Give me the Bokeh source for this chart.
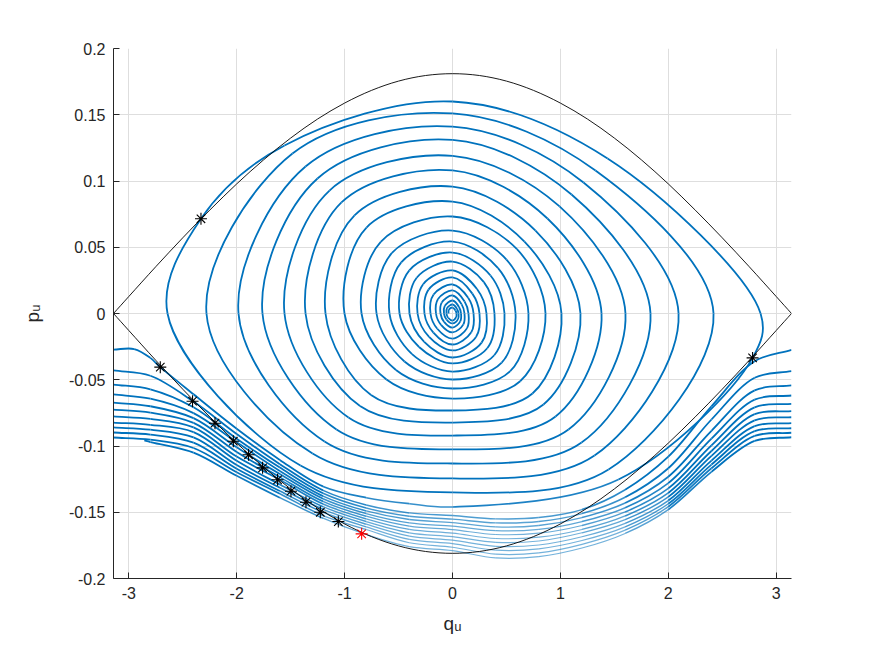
import math
from bokeh.plotting import figure
from bokeh.models import Range1d, FixedTicker, ColumnDataSource
from bokeh.embed import file_html
from bokeh.resources import INLINE

# ---------------- data ----------------
# separatrix
sep_q = [-3.1416, -3.0, -2.75, -2.5, -2.25, -2.0, -1.75, -1.5, -1.25, -1.0, -0.75, -0.5, -0.25, 0.0,
         0.25, 0.5, 0.75, 1.0, 1.25, 1.5, 1.75, 2.0, 2.25, 2.5, 2.75, 3.0, 3.1416]
sep_p_upper = [0.0, 0.0128, 0.0353, 0.0571, 0.0780, 0.0978, 0.1160, 0.1324, 0.1468, 0.1588, 0.1684, 0.1754, 0.1796, 0.1810,
               0.1796, 0.1754, 0.1684, 0.1588, 0.1468, 0.1324, 0.1160, 0.0978, 0.0780, 0.0571, 0.0353, 0.0128, 0.0]
sep_p_lower = [-v for v in sep_p_upper]

# star markers (black) and the red one
star_q = [-2.708, -2.409, -2.201, -2.031, -1.890, -1.760, -1.621, -1.497, -1.358, -1.225, -1.058, -2.331, 2.781]
star_p = [-0.0405, -0.0662, -0.0828, -0.0964, -0.1066, -0.1165, -0.1255, -0.1341, -0.1424, -0.1500, -0.1570, 0.0715, -0.0335]
red_q = [-0.842]
red_p = [-0.1663]

# circulating turns below the separatrix (p at the q grid)
lower_q = [-3.1416, -2.8, -2.4, -2.0, -1.6, -1.2, -0.8, -0.4, 0.0, 0.4, 0.8, 1.2, 1.6, 2.0, 2.4, 2.8, 3.1416]
turn01_p = [-0.0430, -0.0470, -0.0665, -0.0910, -0.1137, -0.1335, -0.1445, -0.1505, -0.1525, -0.1550, -0.1540, -0.1480, -0.1330, -0.1080, -0.0700, -0.0360, -0.0274]
turn02_p = [-0.0536, -0.0572, -0.0708, -0.0945, -0.1163, -0.1357, -0.1468, -0.1530, -0.1552, -0.1580, -0.1570, -0.1510, -0.1387, -0.1168, -0.0800, -0.0485, -0.0435]
turn03_p = [-0.0611, -0.0643, -0.0752, -0.0972, -0.1188, -0.1378, -0.1490, -0.1555, -0.1578, -0.1610, -0.1600, -0.1540, -0.1430, -0.1232, -0.0885, -0.0580, -0.0543]
turn04_p = [-0.0672, -0.0700, -0.0790, -0.1010, -0.1212, -0.1398, -0.1510, -0.1580, -0.1605, -0.1639, -0.1629, -0.1570, -0.1466, -0.1280, -0.0945, -0.0650, -0.0619]
turn05_p = [-0.0725, -0.0748, -0.0825, -0.1045, -0.1235, -0.1418, -0.1530, -0.1605, -0.1631, -0.1668, -0.1658, -0.1600, -0.1498, -0.1320, -0.0995, -0.0708, -0.0682]
turn06_p = [-0.0777, -0.0796, -0.0860, -0.1080, -0.1255, -0.1438, -0.1550, -0.1630, -0.1658, -0.1698, -0.1688, -0.1630, -0.1528, -0.1354, -0.1038, -0.0760, -0.0737]
turn07_p = [-0.0823, -0.0840, -0.0895, -0.1112, -0.1290, -0.1458, -0.1570, -0.1655, -0.1684, -0.1727, -0.1717, -0.1655, -0.1556, -0.1384, -0.1075, -0.0806, -0.0783]
turn08_p = [-0.0860, -0.0877, -0.0935, -0.1143, -0.1315, -0.1478, -0.1590, -0.1680, -0.1711, -0.1757, -0.1747, -0.1685, -0.1584, -0.1412, -0.1110, -0.0850, -0.0828]
turn09_p = [-0.0898, -0.0914, -0.0975, -0.1172, -0.1340, -0.1500, -0.1610, -0.1705, -0.1737, -0.1786, -0.1776, -0.1713, -0.1610, -0.1436, -0.1140, -0.0888, -0.0866]
turn10_p = [-0.0936, -0.0952, -0.1015, -0.1198, -0.1360, -0.1525, -0.1630, -0.1730, -0.1764, -0.1816, -0.1806, -0.1742, -0.1635, -0.1458, -0.1168, -0.0924, -0.0900]
first_q = [-2.856, -2.8, -2.4, -2.0, -1.6, -1.2, -0.8, -0.4, 0.0, 0.4, 0.8, 1.2, 1.6, 2.0, 2.4, 2.8, 3.1416]
first_p = [-0.0958, -0.0970, -0.1050, -0.1225, -0.1390, -0.1545, -0.1668, -0.1760, -0.1790, -0.1845, -0.1835, -0.1770, -0.1660, -0.1480, -0.1195, -0.0962, -0.0934]

# last circulating turn that gets captured (runs into the outermost loop)
entry_q = [-3.1416, -2.95, -2.8, -2.708, -2.4, -2.0, -1.6, -1.2, -0.8]
entry_p = [-0.0272, -0.0268, -0.0335, -0.0405, -0.0610, -0.0870, -0.1105, -0.1305, -0.1390]

# captured loops, outermost first (points around the centre)
centre_q = 0.0
centre_p = 0.0
ring_sw_q = [-0.400, -1.409, -1.297, -1.186, -1.075, -0.964, -0.857, -0.755, -0.612, -0.524, -0.445, -0.375, -0.310, -0.262, -0.217, -0.177, -0.141, -0.106, -0.078, -0.056, -0.040]
ring_sw_p = [-0.1435, -0.1147, -0.1057, -0.0966, -0.0875, -0.0785, -0.0698, -0.0615, -0.0498, -0.0426, -0.0362, -0.0306, -0.0253, -0.0214, -0.0177, -0.0144, -0.0115, -0.0086, -0.0063, -0.0045, -0.0032]
ring_s_p = [-0.1460, -0.1350, -0.1245, -0.1132, -0.1026, -0.0921, -0.0823, -0.0732, -0.0642, -0.0566, -0.0498, -0.0438, -0.0377, -0.0332, -0.0279, -0.0234, -0.0189, -0.0143, -0.0106, -0.0075, -0.0053]
ring_se_q = [1.538, 1.446, 1.316, 1.196, 1.075, 0.955, 0.843, 0.741, 0.627, 0.535, 0.456, 0.387, 0.322, 0.270, 0.218, 0.174, 0.135, 0.101, 0.072, 0.051, 0.034]
ring_se_p = [-0.1253, -0.1177, -0.1072, -0.0974, -0.0875, -0.0777, -0.0687, -0.0604, -0.0511, -0.0435, -0.0371, -0.0315, -0.0262, -0.0220, -0.0177, -0.0142, -0.0110, -0.0082, -0.0059, -0.0042, -0.0028]
ring_e_q = [2.855, 2.419, 2.095, 1.835, 1.603, 1.381, 1.186, 1.010, 0.862, 0.704, 0.584, 0.482, 0.389, 0.315, 0.250, 0.195, 0.148, 0.111, 0.079, 0.056, 0.037]
ring_ne_q = [1.437, 1.325, 1.214, 1.103, 0.992, 0.880, 0.769, 0.667, 0.597, 0.500, 0.422, 0.352, 0.291, 0.227, 0.184, 0.145, 0.112, 0.085, 0.060, 0.042, 0.028]
ring_ne_p = [0.1170, 0.1079, 0.0989, 0.0898, 0.0808, 0.0717, 0.0626, 0.0543, 0.0486, 0.0407, 0.0343, 0.0287, 0.0237, 0.0185, 0.0150, 0.0118, 0.0091, 0.0069, 0.0049, 0.0034, 0.0023]
ring_n_p = [0.1600, 0.1510, 0.1410, 0.1310, 0.1190, 0.1080, 0.0958, 0.0845, 0.0732, 0.0626, 0.0543, 0.0460, 0.0392, 0.0325, 0.0272, 0.0219, 0.0174, 0.0136, 0.0098, 0.0068, 0.0045]
ring_nw_q = [-1.557, -1.483, -1.362, -1.251, -1.140, -1.029, -0.908, -0.797, -0.665, -0.561, -0.475, -0.400, -0.332, -0.272, -0.222, -0.175, -0.134, -0.100, -0.071, -0.050, -0.034]
ring_nw_p = [0.1268, 0.1208, 0.1109, 0.1019, 0.0928, 0.0838, 0.0740, 0.0649, 0.0541, 0.0457, 0.0386, 0.0326, 0.0270, 0.0221, 0.0180, 0.0143, 0.0109, 0.0082, 0.0058, 0.0041, 0.0028]
ring_w_q = [-2.641, -2.280, -1.983, -1.761, -1.557, -1.362, -1.177, -1.001, -0.843, -0.704, -0.584, -0.491, -0.399, -0.324, -0.260, -0.204, -0.153, -0.111, -0.079, -0.056, -0.037]

x_ticks = [-3, -2, -1, 0, 1, 2, 3]
y_ticks = [-0.2, -0.15, -0.1, -0.05, 0.0, 0.05, 0.1, 0.15, 0.2]
x_tick_labels = ["-3", "-2", "-1", "0", "1", "2", "3"]
y_tick_labels = ["-0.2", "-0.15", "-0.1", "-0.05", "0", "0.05", "0.1", "0.15", "0.2"]
x_label = "q\u1d64"
y_label = "p\u1d64"

BLUE = "#0072BD"
INK = "#262626"

# ---------------- smooth drawing through the read points ----------------
SY = 1325.0 / 107.9   # pixel aspect used only for the centripetal smoothing


def empty():
    return {k: [] for k in ("x0", "y0", "x1", "y1", "cx0", "cy0", "cx1", "cy1", "lw", "la")}


def add_segments(store, qs, ps, fade=True):
    P = [(q, v * SY) for q, v in zip(qs, ps)]
    n = len(P)

    def d(a, b):
        return math.hypot(a[0] - b[0], a[1] - b[1]) ** 0.5

    for i in range(n - 1):
        p0 = P[i - 1] if i > 0 else P[i]
        p1, p2 = P[i], P[i + 1]
        p3 = P[i + 2] if i + 2 < n else P[i + 1]
        d1, d2, d3 = d(p0, p1), d(p1, p2), d(p2, p3)
        if d1 < 1e-9:
            c1 = tuple(p1[k] + (p2[k] - p1[k]) / 3 for k in range(2))
        else:
            a, b = d1 * d1, d2 * d2
            den = 3 * d1 * (d1 + d2)
            c1 = tuple((a * p2[k] - b * p0[k] + (2 * a + 3 * d1 * d2 + b) * p1[k]) / den for k in range(2))
        if d3 < 1e-9:
            c2 = tuple(p2[k] - (p2[k] - p1[k]) / 3 for k in range(2))
        else:
            a, b = d3 * d3, d2 * d2
            den = 3 * d3 * (d3 + d2)
            c2 = tuple((a * p1[k] - b * p3[k] + (2 * a + 3 * d3 * d2 + b) * p2[k]) / den for k in range(2))
        mp = 0.5 * (p1[1] + p2[1]) / SY
        # dotted (fast) part of the trajectory near the bottom is lighter
        t = min(1.0, max(0.0, (-0.125 - mp) / 0.042)) if fade else 0.0
        store["x0"].append(p1[0]); store["y0"].append(p1[1] / SY)
        store["x1"].append(p2[0]); store["y1"].append(p2[1] / SY)
        store["cx0"].append(c1[0]); store["cy0"].append(c1[1] / SY)
        store["cx1"].append(c2[0]); store["cy1"].append(c2[1] / SY)
        store["lw"].append(1.8 - 0.6 * t)
        store["la"].append(1.0 - 0.45 * t)


traj = empty()

# spiral of captured loops
sp_q = list(entry_q)
sp_p = list(entry_p)
for i in range(len(ring_n_p)):
    pts = [(ring_sw_q[i], ring_sw_p[i]), (centre_q, ring_s_p[i]), (ring_se_q[i], ring_se_p[i])]
    if i == 0:
        pts.append((star_q[12], star_p[12]))
    pts += [(ring_e_q[i], centre_p), (ring_ne_q[i], ring_ne_p[i]), (centre_q, ring_n_p[i]),
            (ring_nw_q[i], ring_nw_p[i])]
    if i == 0:
        pts.append((star_q[11], star_p[11]))
    pts.append((ring_w_q[i], centre_p))
    for a, b in pts:
        sp_q.append(a)
        sp_p.append(b)
add_segments(traj, sp_q, sp_p)

for tp in [turn01_p, turn02_p, turn03_p, turn04_p, turn05_p, turn06_p, turn07_p, turn08_p, turn09_p, turn10_p]:
    add_segments(traj, lower_q, tp)
add_segments(traj, first_q, first_p)

sep = empty()
add_segments(sep, sep_q, sep_p_upper, fade=False)
add_segments(sep, sep_q, sep_p_lower, fade=False)

# ---------------- figure ----------------
p = figure(width=860, height=650, x_range=Range1d(-math.pi, math.pi), y_range=Range1d(-0.2, 0.2),
           output_backend="svg", toolbar_location=None, title=None,
           min_border_left=113, min_border_right=69, min_border_top=48, min_border_bottom=72)
p.background_fill_color = "white"
p.border_fill_color = "white"
p.outline_line_color = None

p.xaxis.ticker = FixedTicker(ticks=x_ticks)
p.yaxis.ticker = FixedTicker(ticks=y_ticks)
p.xaxis.major_label_overrides = {t: s for t, s in zip(x_ticks, x_tick_labels)}
p.yaxis.major_label_overrides = {t: s for t, s in zip(y_ticks, y_tick_labels)}
for ax in (p.xaxis, p.yaxis):
    ax.major_tick_in = 6
    ax.major_tick_out = 0
    ax.minor_tick_line_color = None
    ax.axis_line_color = INK
    ax.major_tick_line_color = INK
    ax.major_label_text_color = INK
    ax.major_label_text_font = "Liberation Sans"
    ax.major_label_text_font_size = "16px"
    ax.axis_label_text_font = "Liberation Sans"
    ax.axis_label_text_font_style = "normal"
    ax.axis_label_text_font_size = "19px"
    ax.axis_label_text_color = INK
p.xaxis.axis_label = x_label
p.yaxis.axis_label = y_label
p.xaxis.major_label_standoff = 8
p.yaxis.major_label_standoff = 8
p.xaxis.axis_label_standoff = 11
p.yaxis.axis_label_standoff = 23
p.grid.grid_line_color = "#dedede"
p.grid.grid_line_width = 1

p.bezier(x0="x0", y0="y0", x1="x1", y1="y1", cx0="cx0", cy0="cy0", cx1="cx1", cy1="cy1",
         source=ColumnDataSource(traj), line_color=BLUE, line_width="lw", line_alpha="la")
p.bezier(x0="x0", y0="y0", x1="x1", y1="y1", cx0="cx0", cy0="cy0", cx1="cx1", cy1="cy1",
         source=ColumnDataSource(sep), line_color="black", line_width=0.9)

p.scatter(star_q, star_p, marker="asterisk", size=12, line_color="black", line_width=1.1)
p.scatter(red_q, red_p, marker="asterisk", size=12, line_color="red", line_width=1.1)

open("out.html", "w").write(file_html(p, INLINE))
